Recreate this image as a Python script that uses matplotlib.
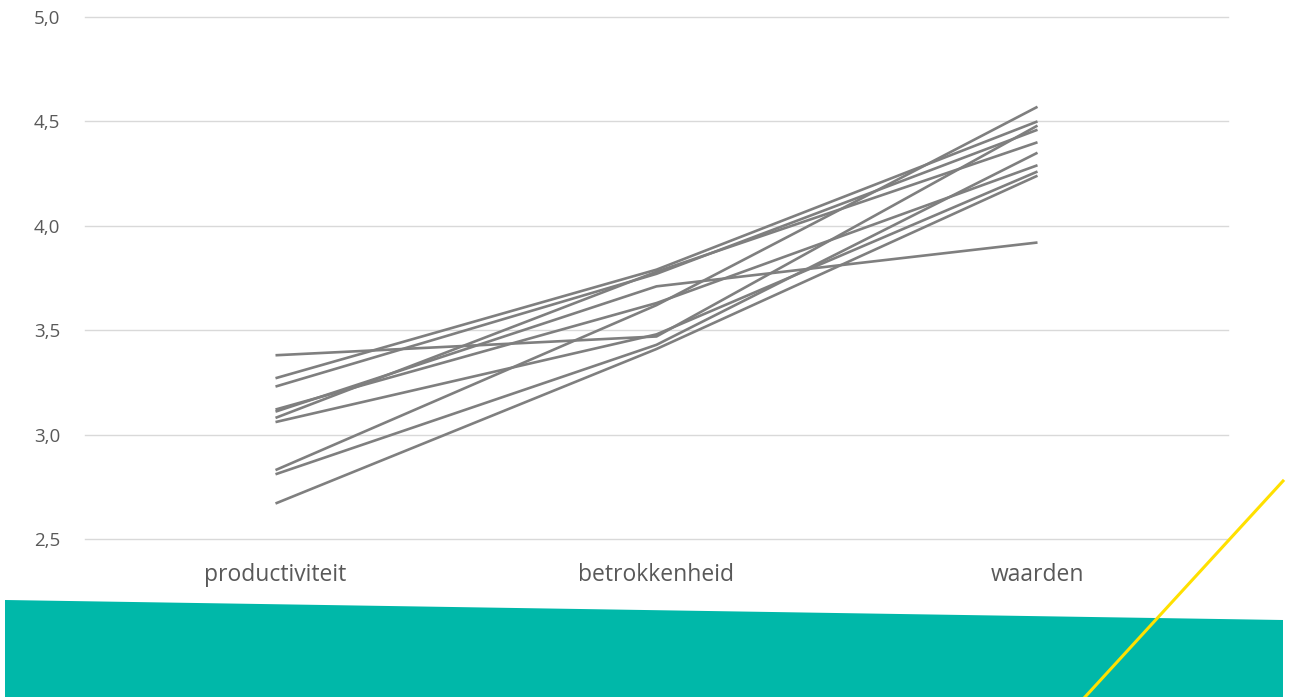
import matplotlib.pyplot as plt
from matplotlib.patches import Polygon
from matplotlib.lines import Line2D

plt.rcParams['font.family'] = ['Open Sans', 'DejaVu Sans']

categories = ["productiviteit", "betrokkenheid", "waarden"]

# one row per respondent group: productiviteit, betrokkenheid, waarden
series = [
    [3.38, 3.47, 4.48],
    [3.27, 3.79, 4.50],
    [3.23, 3.77, 4.46],
    [3.12, 3.63, 4.29],
    [3.11, 3.71, 3.92],
    [3.08, 3.78, 4.40],
    [3.06, 3.48, 4.26],
    [2.83, 3.62, 4.57],
    [2.81, 3.43, 4.35],
    [2.67, 3.41, 4.24],
]

y_ticks = [2.5, 3.0, 3.5, 4.0, 4.5, 5.0]
y_labels = ["2,5", "3,0", "3,5", "4,0", "4,5", "5,0"]

W, H = 1293, 697
fig = plt.figure(figsize=(W / 100, H / 100), dpi=100)
ax = fig.add_axes([85 / W, 1 - 539 / H, (1228 - 85) / W, (539 - 17) / H])

x = list(range(len(categories)))
for vals in series:
    ax.plot(x, vals, color="#7f7f7f", lw=1.9, solid_capstyle="butt", zorder=3)

ax.set_xlim(-0.5, len(categories) - 0.5)
ax.set_ylim(2.5, 5.0)
ax.set_yticks(y_ticks)
ax.set_yticklabels(y_labels)
ax.set_xticks(x)
ax.set_xticklabels(categories)
ax.grid(axis="y", color="#d9d9d9", lw=1)
for gl in ax.yaxis.get_gridlines():
    gl.set_clip_on(False)
ax.set_axisbelow(True)
for s in ax.spines.values():
    s.set_visible(False)
ax.tick_params(axis="both", length=0, colors="#595959")
ax.tick_params(axis="y", labelsize=13.5, pad=18)
ax.tick_params(axis="x", labelsize=16.5, pad=17)

# decorative teal band and yellow stroke along the bottom
fig.patches.append(Polygon(
    [(5 / W, 1 - 600 / H), (1283 / W, 1 - 620 / H), (1283 / W, 0), (5 / W, 0)],
    closed=True, transform=fig.transFigure, facecolor="#00b8a9", edgecolor="none", zorder=1))
fig.lines.append(Line2D([1085 / W, 1283 / W], [0, 1 - 481 / H],
                        transform=fig.transFigure, color="#ffe000", lw=2.2, zorder=2))

fig.savefig("out.png", dpi=100)
